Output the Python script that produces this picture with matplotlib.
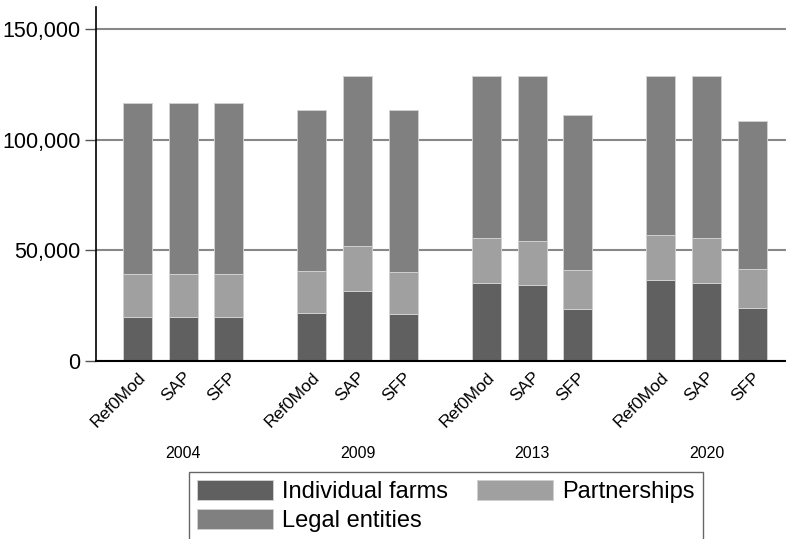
import matplotlib.pyplot as plt
import numpy as np

plt.rcParams['font.family'] = ['Liberation Sans', 'DejaVu Sans']

years = ['2004', '2009', '2013', '2020']
scenarios = ['Ref0Mod', 'SAP', 'SFP']

# per year: Ref0Mod, SAP, SFP
individual_farms = [[19700, 19700, 19700],
                    [21700, 31600, 21200],
                    [35100, 34300, 23500],
                    [36500, 35100, 24100]]
partnerships = [[19700, 19700, 19700],
                [18800, 20400, 19000],
                [20500, 19900, 17700],
                [20600, 20500, 17500]]
legal_entities = [[77000, 77000, 77000],
                  [72900, 77000, 73200],
                  [73300, 74700, 70200],
                  [71900, 73400, 66700]]

colors = {'ind': '#606060', 'part': '#a0a0a0', 'legal': '#808080'}

fig = plt.figure(figsize=(7.86, 5.39), dpi=100)
ax = fig.add_axes([96/786, 1 - 361/539, 1 - 96/786, (361 - 7)/539])

group_step = 174.5 / 45.7
xs, labels = [], []
for g in range(len(years)):
    for i in range(len(scenarios)):
        xs.append(g*group_step + i)
        labels.append(scenarios[i])
xs = np.array(xs)
ind = np.array(individual_farms).ravel()
part = np.array(partnerships).ravel()
legal = np.array(legal_entities).ravel()

w = 29 / 45.7
ec = '#d0d0d0'
b1 = ax.bar(xs, ind, w, color=colors['ind'], edgecolor=ec, linewidth=0.7, zorder=3)
b2 = ax.bar(xs, part, w, bottom=ind, color=colors['part'], edgecolor=ec, linewidth=0.7, zorder=3)
b3 = ax.bar(xs, legal, w, bottom=ind + part, color=colors['legal'], edgecolor=ec, linewidth=0.7, zorder=3)

ax.set_ylim(0, 160000)
ax.set_xlim(-0.908, (786 - 137.5) / 45.7)
ax.set_yticks([0, 50000, 100000, 150000])
ax.set_yticklabels(['0', '50,000', '100,000', '150,000'], fontsize=15.5)
ax.yaxis.grid(True, color='#888888', linewidth=1.5, zorder=0)
ax.tick_params(axis='y', length=8, width=1, color='#555555', pad=3)

ax.set_xticks(xs)
ax.set_xticklabels(labels, rotation=45, ha='right', rotation_mode='anchor', fontsize=12.5)
ax.tick_params(axis='x', length=0, pad=6)

for g, yr in enumerate(years):
    ax.text(g*group_step + 1, -0.26, yr, transform=ax.get_xaxis_transform(),
            ha='center', va='center', fontsize=11.5)

for s in ['top', 'right']:
    ax.spines[s].set_visible(False)
ax.spines['left'].set_linewidth(1.2)
ax.spines['bottom'].set_linewidth(1.5)
ax.spines['bottom'].set_zorder(4)

top = 1 - 472/539
leg = fig.legend([b1, b3, b2], ['Individual farms', 'Legal entities', 'Partnerships'],
                 ncol=2, loc='upper left', mode='expand',
                 bbox_to_anchor=(189/786, top - 0.2, (703 - 189)/786, 0.2),
                 borderaxespad=0, fontsize=17, frameon=True, fancybox=False,
                 edgecolor='#404040', handlelength=3.2, handleheight=0.9,
                 labelspacing=0.25, columnspacing=0.35, handletextpad=0.4, borderpad=0.35)
leg.get_frame().set_linewidth(1.0)

fig.savefig('out.png', dpi=100)
